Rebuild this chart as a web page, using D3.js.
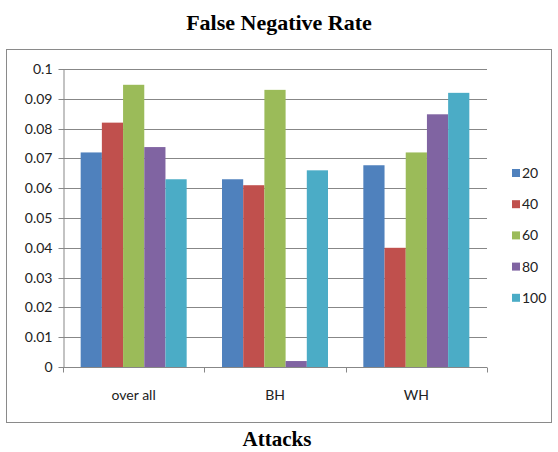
<!DOCTYPE html>
<html>
<head>
<meta charset="utf-8">
<script src="https://cdn.jsdelivr.net/npm/d3@7"></script>
<style>
  body { margin: 0; background: #fff; }
  svg { display: block; }
</style>
</head>
<body>
<svg id="chart" width="558" height="452"></svg>
<script>
// Attack categories and window sizes
const categories = ["over all", "BH", "WH"];
const seriesNames = ["20", "40", "60", "80", "100"];
const colors = ["#4F81BD", "#C0504D", "#9BBB59", "#8064A2", "#4BACC6"];

// False negative rate per series, one value per category
const s20  = [0.072, 0.063, 0.0677];
const s40  = [0.082, 0.061, 0.040];
const s60  = [0.0947, 0.093, 0.072];
const s80  = [0.0738, 0.002, 0.0848];
const s100 = [0.063, 0.066, 0.092];
const seriesValues = [s20, s40, s60, s80, s100];

const yTicks = [0, 0.01, 0.02, 0.03, 0.04, 0.05, 0.06, 0.07, 0.08, 0.09, 0.1];

const svg = d3.select("#chart");
const font = "Lato, 'Open Sans', sans-serif";
const serif = "'Liberation Serif', 'Times New Roman', serif";

// Title
svg.append("text")
  .attr("x", 279).attr("y", 30)
  .attr("text-anchor", "middle")
  .attr("font-family", serif)
  .attr("font-weight", "bold")
  .attr("font-size", 22)
  .text("False Negative Rate");

// Chart frame
svg.append("rect")
  .attr("x", 6.5).attr("y", 49.5)
  .attr("width", 545).attr("height", 373)
  .attr("fill", "none")
  .attr("stroke", "#8a8a8a")
  .attr("stroke-width", 1);

const plot = { left: 63, right: 487, top: 69, bottom: 367 };

const x0 = d3.scaleBand()
  .domain(categories)
  .range([plot.left, plot.right])
  .paddingInner(0.25)
  .paddingOuter(0.125);

const x1 = d3.scaleBand()
  .domain(seriesNames)
  .range([0, x0.bandwidth()]);

const y = d3.scaleLinear()
  .domain([0, 0.1])
  .range([plot.bottom, plot.top]);

// Gridlines
svg.append("g")
  .selectAll("line")
  .data(yTicks.filter(d => d > 0))
  .join("line")
  .attr("x1", plot.left).attr("x2", plot.right)
  .attr("y1", d => Math.round(y(d)) + 0.5)
  .attr("y2", d => Math.round(y(d)) + 0.5)
  .attr("stroke", "#878787")
  .attr("stroke-width", 1);

// Y axis
const yAxis = svg.append("g")
  .attr("transform", `translate(${plot.left + 0.5},0)`)
  .call(d3.axisLeft(y)
    .tickValues(yTicks)
    .tickFormat(d => d === 0 ? "0" : d3.format("")(+d.toFixed(2)))
    .tickSize(5)
    .tickSizeOuter(0));
yAxis.select(".domain").attr("stroke", "#878787");
yAxis.selectAll(".tick line").attr("stroke", "#878787");
yAxis.selectAll(".tick text")
  .attr("font-family", font)
  .attr("font-size", 14)
  .attr("fill", "#222")
  .attr("x", -11);
yAxis.selectAll(".tick").attr("transform", d => `translate(0,${Math.round(y(d)) + 0.5})`);

// Bars
const groups = svg.append("g")
  .selectAll("g")
  .data(categories)
  .join("g")
  .attr("transform", d => `translate(${x0(d)},0)`);

groups.selectAll("rect")
  .data((c, ci) => seriesNames.map((s, si) => ({ s, si, v: seriesValues[si][ci] })))
  .join("rect")
  .attr("x", d => x1(d.s))
  .attr("width", x1.bandwidth())
  .attr("y", d => y(d.v))
  .attr("height", d => plot.bottom - y(d.v))
  .attr("fill", d => colors[d.si]);

// X axis with ticks at category boundaries
const xAxisG = svg.append("g")
  .attr("transform", `translate(0,${plot.bottom + 0.5})`);
xAxisG.append("line")
  .attr("x1", plot.left).attr("x2", plot.right)
  .attr("stroke", "#878787");
const step = x0.step();
xAxisG.selectAll("line.tk")
  .data(d3.range(categories.length + 1))
  .join("line")
  .attr("class", "tk")
  .attr("x1", i => Math.round(plot.left + i * step) + 0.5)
  .attr("x2", i => Math.round(plot.left + i * step) + 0.5)
  .attr("y1", 0).attr("y2", 5)
  .attr("stroke", "#878787");
xAxisG.selectAll("text")
  .data(categories)
  .join("text")
  .attr("x", d => x0(d) + x0.bandwidth() / 2)
  .attr("y", 32)
  .attr("text-anchor", "middle")
  .attr("font-family", font)
  .attr("font-size", 14)
  .attr("fill", "#222")
  .text(d => d);

// Legend
const legend = svg.append("g")
  .selectAll("g")
  .data(seriesNames)
  .join("g")
  .attr("transform", (d, i) => `translate(512,${173 + i * 31.2})`);
legend.append("rect")
  .attr("x", 0).attr("y", -4)
  .attr("width", 8).attr("height", 8)
  .attr("fill", (d, i) => colors[i]);
legend.append("text")
  .attr("x", 10).attr("y", 0)
  .attr("dy", "0.35em")
  .attr("font-family", font)
  .attr("font-size", 14)
  .attr("fill", "#222")
  .text(d => d);

// X axis title
svg.append("text")
  .attr("x", 277).attr("y", 446)
  .attr("text-anchor", "middle")
  .attr("font-family", serif)
  .attr("font-weight", "bold")
  .attr("font-size", 21)
  .text("Attacks");
</script>
</body>
</html>
